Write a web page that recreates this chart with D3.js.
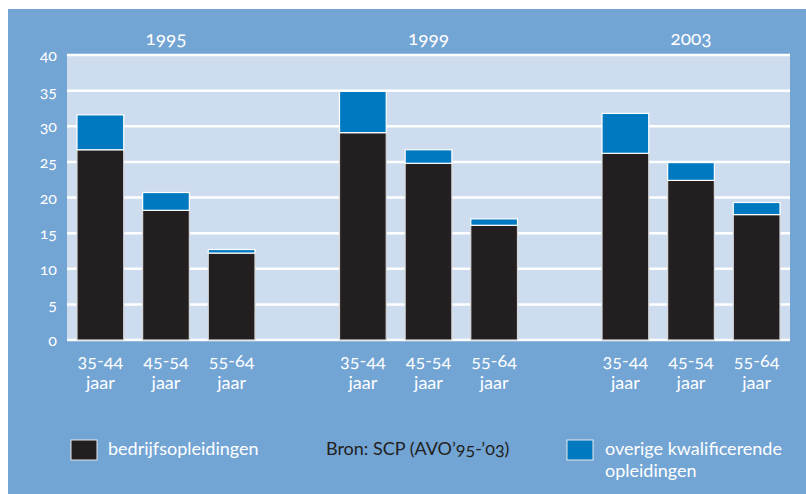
<!DOCTYPE html>
<html><head><meta charset="utf-8">
<script src="https://cdn.jsdelivr.net/npm/d3@7"></script>
<style>
html,body{margin:0;padding:0;background:#fff;}
svg text{font-family:Lato,"Open Sans",sans-serif;font-variant-numeric:oldstyle-nums;font-feature-settings:"onum";}
</style></head>
<body><svg id="c" width="806" height="494"></svg>
<script>
const years = ["1995","1999","2003"];
const ages = ["35-44","45-54","55-64"];
const ageSub = "jaar";
const bedrijf = [[26.7,18.2,12.2],[29.1,24.8,16.1],[26.2,22.4,17.6]];
const overig  = [[4.9,2.5,0.5],[5.8,1.9,0.9],[5.6,2.5,1.7]];
const yTicks = [0,5,10,15,20,25,30,35,40];
const seriesNames = ["bedrijfsopleidingen","overige kwalificerende opleidingen"];
const sourceText = "Bron: SCP (AVO\u201995-\u201903)";

const svg = d3.select("#c");
const C = {outer:"#72a4d4", plot:"#cddcee", dark:"#231f20", blue:"#0079c1", white:"#ffffff"};

svg.append("rect").attr("x",8).attr("y",9).attr("width",798).attr("height",485).attr("fill",C.outer);

const plotL=67, plotR=790, plotT=55, plotB=340;
svg.append("rect").attr("x",plotL).attr("y",plotT).attr("width",plotR-plotL).attr("height",plotB-plotT).attr("fill",C.plot);

const y = d3.scaleLinear().domain([0,40]).range([plotB,plotT]);
const xg = d3.scaleBand().domain(years).range([77,780]).paddingInner(0.322).paddingOuter(0);
const xa = d3.scaleBand().domain(ages).range([0,xg.bandwidth()]).paddingInner(0.288).paddingOuter(0);

// gridlines
svg.append("g").selectAll("line").data(yTicks).join("line")
  .attr("x1",plotL).attr("x2",plotR).attr("y1",d=>y(d)).attr("y2",d=>y(d))
  .attr("stroke",C.white).attr("stroke-width",2.5);

// y axis labels
const yAxis = d3.axisLeft(y).tickValues(yTicks).tickSize(0).tickPadding(0).tickFormat(d3.format("d"));
const ga = svg.append("g").attr("transform",`translate(57,0)`).call(yAxis);
ga.select(".domain").remove();
ga.selectAll("text").attr("fill",C.white).attr("font-size",16).attr("dy","0.35em");

// bars
years.forEach((yr,gi)=>{
  const g = svg.append("g").attr("transform",`translate(${xg(yr)},0)`);
  ages.forEach((a,ai)=>{
    const b = bedrijf[gi][ai], o = overig[gi][ai];
    g.append("rect").attr("x",xa(a)).attr("width",xa.bandwidth())
      .attr("y",y(b)).attr("height",y(0)-y(b))
      .attr("fill",C.dark).attr("stroke","#d8d8d8").attr("stroke-width",1.2);
    g.append("rect").attr("x",xa(a)).attr("width",xa.bandwidth())
      .attr("y",y(b+o)).attr("height",y(b)-y(b+o))
      .attr("fill",C.blue).attr("stroke","#ffffff").attr("stroke-width",1.2);
    g.append("text").attr("x",xa(a)+xa.bandwidth()/2).attr("y",367)
      .attr("text-anchor","middle").attr("fill",C.white).attr("font-size",18).text(a);
    g.append("text").attr("x",xa(a)+xa.bandwidth()/2).attr("y",389)
      .attr("text-anchor","middle").attr("fill",C.white).attr("font-size",18).text(ageSub);
  });
  svg.append("text").attr("x",xg(yr)+xg.bandwidth()/2).attr("y",45)
    .attr("text-anchor","middle").attr("fill",C.white).attr("font-size",19).text(yr);
});

// legend
svg.append("rect").attr("x",71).attr("y",440).attr("width",26).attr("height",20)
  .attr("fill",C.dark).attr("stroke","#e8e8e8").attr("stroke-width",1);
svg.append("text").attr("x",108).attr("y",455).attr("fill",C.white).attr("font-size",18).text(seriesNames[0]);
svg.append("text").attr("x",326).attr("y",455).attr("fill",C.dark).attr("font-size",18).text(sourceText);
svg.append("rect").attr("x",567).attr("y",440).attr("width",26).attr("height",20)
  .attr("fill",C.blue).attr("stroke","#e8e8e8").attr("stroke-width",1);
svg.append("text").attr("x",605).attr("y",455).attr("fill",C.white).attr("font-size",18).text("overige kwalificerende");
svg.append("text").attr("x",605).attr("y",477).attr("fill",C.white).attr("font-size",18).text("opleidingen");
</script></body></html>
